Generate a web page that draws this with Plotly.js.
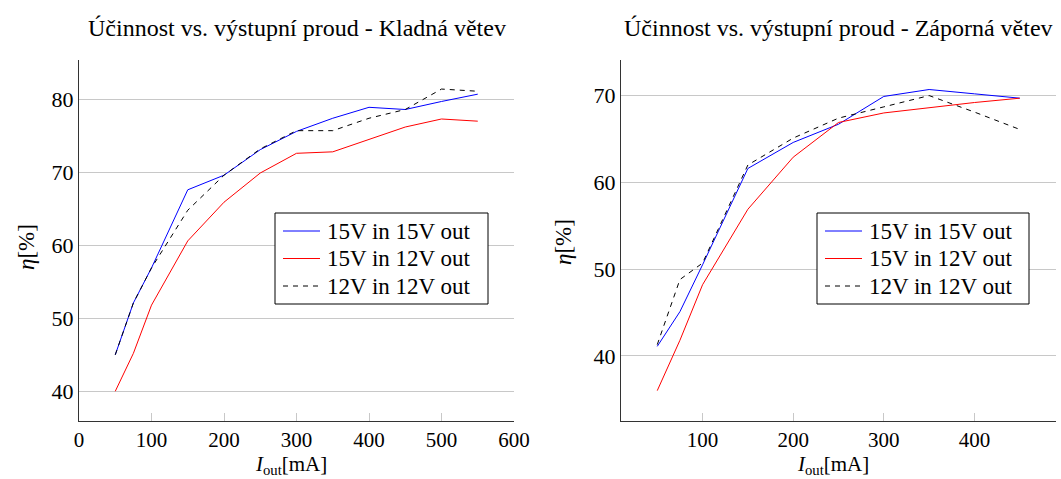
<!DOCTYPE html>
<html>
<head>
<meta charset="utf-8">
<script src="https://cdn.plot.ly/plotly-3.0.1.min.js"></script>
<style>html,body{margin:0;padding:0;background:#fff;}#chart{width:1061px;height:479px;}</style>
</head>
<body>
<div id="chart"></div>
<script>
// Kladná větev (positive branch)
const xPos = [50, 75, 100, 150, 200, 250, 300, 350, 400, 450, 500, 550];
const pos15in15out = [45.0, 52.1, 56.9, 67.6, 69.6, 73.1, 75.6, 77.4, 78.9, 78.6, 79.7, 80.7];
const pos15in12out = [40.0, 45.2, 51.8, 60.6, 65.9, 69.9, 72.6, 72.8, 74.5, 76.2, 77.3, 77.0];
const pos12in12out = [45.0, 52.1, 56.9, 64.8, 69.6, 73.2, 75.7, 75.7, 77.4, 78.6, 81.4, 81.1];

// Záporná větev (negative branch)
const xNeg = [50, 75, 100, 150, 200, 250, 300, 350, 400, 450];
const neg15in15out = [41.1, 45.1, 50.5, 61.6, 64.6, 66.7, 69.9, 70.7, 70.2, 69.7];
const neg15in12out = [36.0, 41.8, 48.2, 56.9, 62.9, 66.9, 68.0, 68.6, 69.2, 69.7];
const neg12in12out = [41.3, 48.8, 50.7, 62.0, 65.1, 67.4, 68.7, 70.0, 68.1, 66.1];

const seriesNames = ['15V in 15V out', '15V in 12V out', '12V in 12V out'];
const titles = ['Účinnost vs. výstupní proud - Kladná větev', 'Účinnost vs. výstupní proud - Záporná větev'];
const xTicksPos = [0, 100, 200, 300, 400, 500, 600];
const xTicksNeg = [100, 200, 300, 400];
const yTicksPos = [40, 50, 60, 70, 80];
const yTicksNeg = [40, 50, 60, 70];

const FONT = 'Liberation Serif, Times New Roman, serif';
const styles = [
  {color: '#0000ff', width: 1, dash: 'solid'},
  {color: '#ff0000', width: 1, dash: 'solid'},
  {color: '#000000', width: 1, dash: '5px,5px'}
];

const traces = [];
[pos15in15out, pos15in12out, pos12in12out].forEach((ys, i) => {
  traces.push({x: xPos, y: ys, type: 'scatter', mode: 'lines', name: seriesNames[i],
    line: styles[i], xaxis: 'x', yaxis: 'y', showlegend: false});
});
[neg15in15out, neg15in12out, neg12in12out].forEach((ys, i) => {
  traces.push({x: xNeg, y: ys, type: 'scatter', mode: 'lines', name: seriesNames[i],
    line: styles[i], xaxis: 'x2', yaxis: 'y2', showlegend: false});
});

const W = 1061, H = 479;
const M = {l: 79, r: 5, t: 60, b: 58};
const PW = W - M.l - M.r, PH = H - M.t - M.b;
const px = v => (v - M.l) / PW;     // pixel -> paper x
const py = v => (H - M.b - v) / PH; // pixel -> paper y

function xaxis(domain, range, ticks, anchor) {
  return {
    domain: domain, range: range, anchor: anchor,
    tickmode: 'array', tickvals: ticks, ticktext: ticks.map(String),
    ticks: 'inside', ticklen: 8, tickcolor: '#c8c8c8', tickwidth: 1,
    showgrid: false, zeroline: false,
    showline: true, linecolor: '#333', linewidth: 1,
    tickfont: {family: FONT, size: 21, color: '#000'},
    automargin: false
  };
}
function yaxis(domain, range, ticks, anchor) {
  return {
    domain: domain, range: range, anchor: anchor,
    tickmode: 'array', tickvals: ticks, ticktext: ticks.map(String),
    ticks: 'inside', ticklen: 8, tickcolor: '#c8c8c8', tickwidth: 1,
    showgrid: true, gridcolor: '#c8c8c8', gridwidth: 1, zeroline: false,
    showline: true, linecolor: '#333', linewidth: 1,
    tickfont: {family: FONT, size: 22, color: '#000'},
    automargin: false
  };
}

// Legend boxes drawn in paper coordinates (one per subplot)
const legendBoxes = [
  {left: 275, right: 488, top: 213, bottom: 304},
  {left: 817, right: 1029, top: 213, bottom: 304}
];
const shapes = [];
const annotations = [];
legendBoxes.forEach(b => {
  shapes.push({type: 'rect', xref: 'paper', yref: 'paper', x0: px(b.left), x1: px(b.right), y0: py(b.bottom), y1: py(b.top),
    line: {color: '#000', width: 1}, fillcolor: '#fff', layer: 'above'});
  seriesNames.forEach((name, i) => {
    const yc = b.top + 18 + i * 27.5;
    shapes.push({type: 'line', xref: 'paper', yref: 'paper', x0: px(b.left + 8), x1: px(b.left + 45), y0: py(yc), y1: py(yc),
      line: styles[i], layer: 'above'});
    annotations.push({text: name, xref: 'paper', yref: 'paper', x: px(b.left + 50), y: py(yc), xanchor: 'left', yanchor: 'middle',
      showarrow: false, font: {family: FONT, size: 23, color: '#000'}});
  });
});
// Subplot titles
annotations.push(
  {text: titles[0], xref: 'paper', yref: 'paper', x: px(297), y: py(28), xanchor: 'center', yanchor: 'middle',
   showarrow: false, font: {family: FONT, size: 24, color: '#000'}},
  {text: titles[1], xref: 'paper', yref: 'paper', x: px(838), y: py(28), xanchor: 'center', yanchor: 'middle',
   showarrow: false, font: {family: FONT, size: 24, color: '#000'}}
);
// Axis titles
const xTitle = '<i>I</i><sub>out</sub>[mA]';
const yTitle = '<i>η</i>[%]';
[291, 833].forEach(cx => annotations.push(
  {text: xTitle, xref: 'paper', yref: 'paper', x: px(cx), y: py(480), xanchor: 'center', yanchor: 'bottom',
   showarrow: false, font: {family: FONT, size: 21, color: '#000'}}));
[[27, 247], [563, 242]].forEach(([cx, cy]) => annotations.push(
  {text: yTitle, xref: 'paper', yref: 'paper', x: px(cx), y: py(cy), xanchor: 'center', yanchor: 'middle', textangle: -90,
   showarrow: false, font: {family: FONT, size: 23, color: '#000'}}));

const layout = {
  width: W, height: H,
  margin: Object.assign({pad: 0, autoexpand: false}, M),
  paper_bgcolor: '#ffffff', plot_bgcolor: '#ffffff',
  showlegend: false,
  xaxis: xaxis([px(79), px(514)], [0, 600], xTicksPos, 'y'),
  yaxis: yaxis([0, 1], [35.93, 85.38], yTicksPos, 'x'),
  xaxis2: xaxis([px(621), px(1056)], [10, 490], xTicksNeg, 'y2'),
  yaxis2: yaxis([0, 1], [32.5, 74.1], yTicksNeg, 'x2'),
  shapes: shapes,
  annotations: annotations
};

Plotly.newPlot('chart', traces, layout, {staticPlot: true, displayModeBar: false});
</script>
</body>
</html>
